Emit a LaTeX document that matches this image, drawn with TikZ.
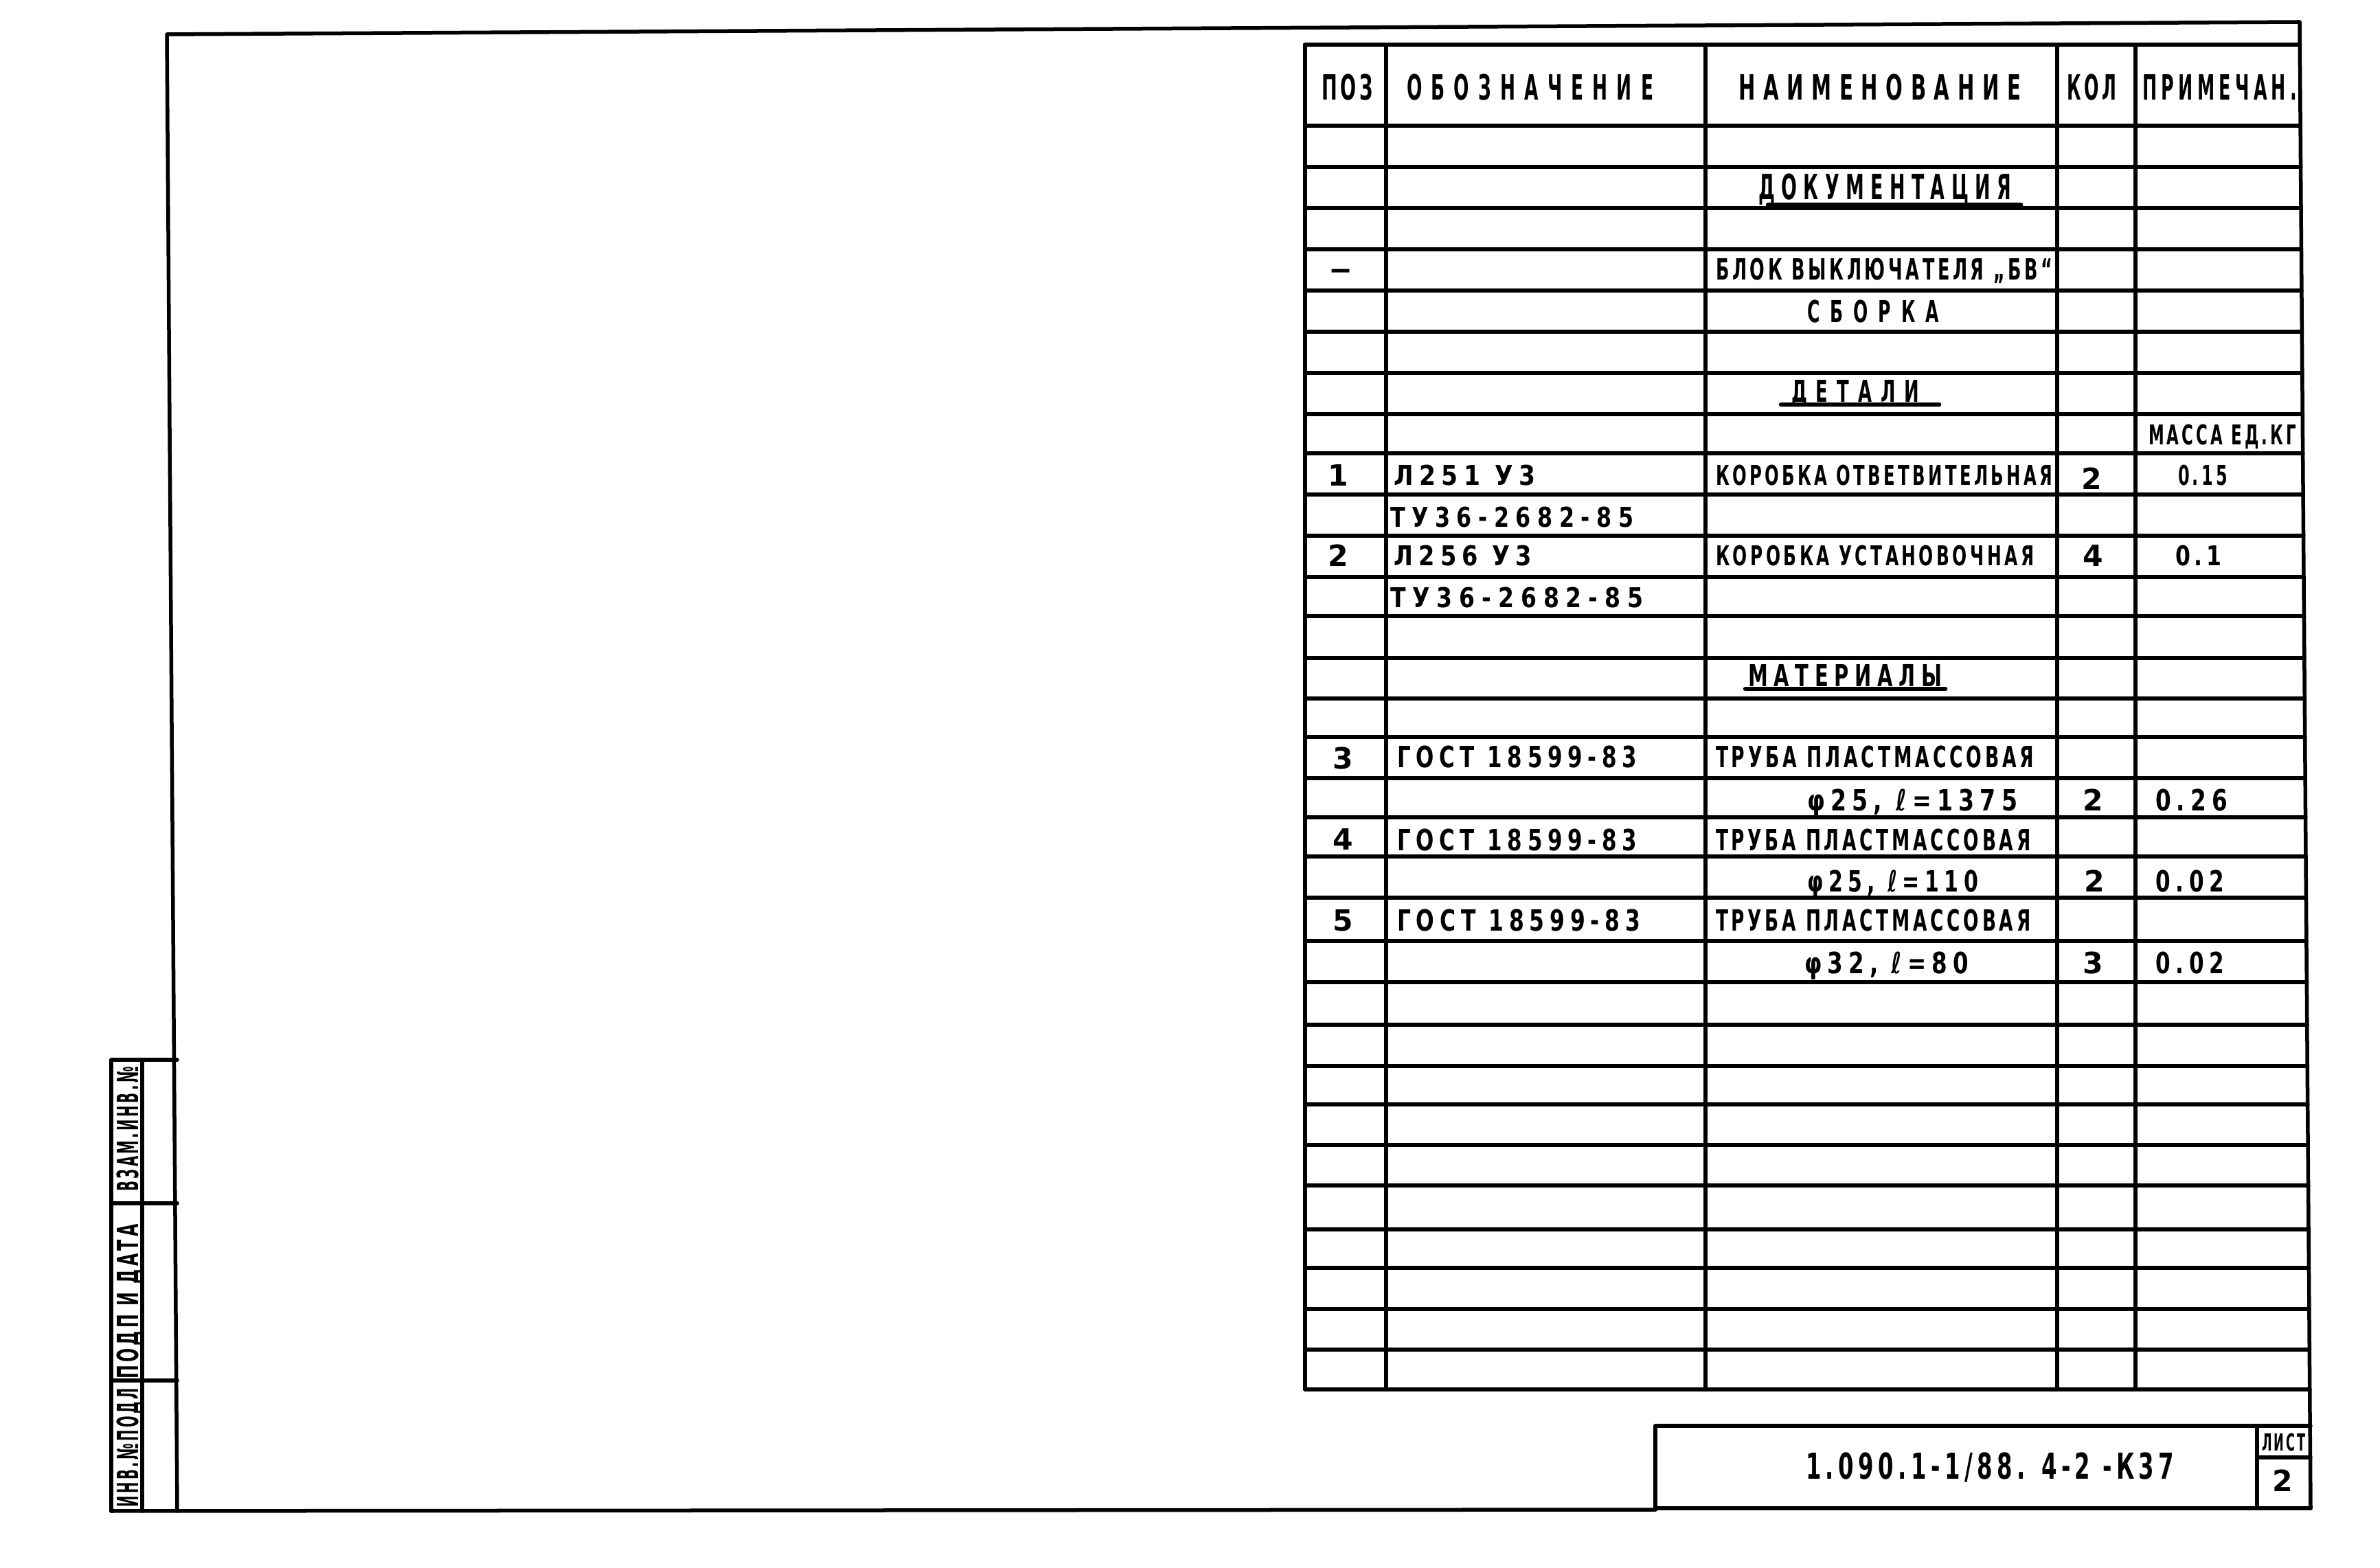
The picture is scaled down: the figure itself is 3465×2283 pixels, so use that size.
\documentclass[tikz,border=0pt]{standalone}
\usepackage{fontspec}
\usepackage{graphicx}
\newfontfamily\gostfont{DejaVu Sans}[LetterSpace=18]
\newcommand\fitw[2]{\resizebox{#1cm}{\height}{#2}}
\newcommand\spc[1]{\addfontfeatures{LetterSpace=#1}}
\tikzset{
  frm/.style={line width=0.055cm, line cap=round, line join=round},
  hrow/.style={line width=0.06cm, line cap=round},
  vcol/.style={line width=0.055cm, line cap=round},
  uline/.style={line width=0.065cm, line cap=round},
  base/.style={inner sep=0pt, outer sep=0pt, text depth=0pt},
  c25/.style={base, text height=0.25cm, font={\gostfont\bfseries\fontsize{9.75pt}{10pt}\selectfont}},
  c28/.style={base, text height=0.29cm, font={\gostfont\bfseries\fontsize{11.3pt}{12pt}\selectfont}},
  c30/.style={base, text height=0.31cm, font={\gostfont\bfseries\fontsize{12.1pt}{13pt}\selectfont}},
  c32/.style={base, text height=0.32cm, font={\gostfont\bfseries\fontsize{12.5pt}{13pt}\selectfont}},
  c37/.style={base, text height=0.37cm, font={\gostfont\bfseries\fontsize{14.4pt}{15pt}\selectfont}},
  c38/.style={base, text height=0.38cm, font={\gostfont\bfseries\fontsize{14.8pt}{15pt}\selectfont}},
}
\begin{document}
\begin{tikzpicture}[x=0.01cm,y=-0.01cm]
\useasboundingbox (0,0) rectangle (3465,2283);

% outer frame
\draw[frm] (258,2200) -- (243,50) -- (3348,32) -- (3364,2196);
\draw[frm] (162,2200) -- (2410,2198);
% title block
\draw[frm] (2410,2198) -- (2410,2076) -- (3364,2076);
\draw[frm] (2410,2196) -- (3364,2196);
\draw[frm] (3286,2076) -- (3286,2196);
\draw[frm] (3286,2122) -- (3364,2122);
% left stamp
\draw[frm] (258,1543) -- (162,1543) -- (162,2200);
\draw[frm] (207,1543) -- (207,2200);
\draw[frm] (162,1752) -- (258,1752);
\draw[frm] (162,2010) -- (258,2010);

% table rows
\foreach \y in {65,183,243,303,363,423,483,543,603,660,720,780,840,897,958,1017,1073,1133,1190,1247,1307,1370,1430,1492,1552,1608,1667,1726,1790,1846,1906,1965,2023} {
  \pgfmathsetmacro\xr{3348+(\y-32)/2164*16}
  \draw[hrow] (1900,\y) -- (\xr,\y);
}
% table columns
\foreach \x in {1900,2018,2483,2995,3109} \draw[vcol] (\x,65) -- (\x,2023);

% header
\node[c37, anchor=west] (hpoz)  at (1924,127) {\fitw{0.75}{ПОЗ}};
\node[c37, anchor=west] (hobo)  at (2048,127) {\fitw{3.59}{\spc{50}ОБОЗНАЧЕНИЕ}};
\node[c37, anchor=west] (hnaim) at (2531,127) {\fitw{4.11}{\spc{40}НАИМЕНОВАНИЕ}};
\node[c37, anchor=west] (hkol)  at (3009,127) {\fitw{0.72}{КОЛ}};
\node[c37, anchor=west] (hprim) at (3119,127) {\fitw{2.25}{\spc{25}ПРИМЕЧАН.}};

% documentation
\node[c37, anchor=west] (doc) at (2560,272) {\fitw{3.68}{\spc{35}ДОКУМЕНТАЦИЯ}};
\draw[uline] ([shift={(14,8)}]doc.south west) -- ([shift={(14,8)}]doc.south east);
\node[c28, anchor=center] (dash) at (1952,391) {\fitw{0.29}{—}};
\node[c30, anchor=west] (blok) at (2498,392) {\fitw{4.90}{БЛОК ВЫКЛЮЧАТЕЛЯ „БВ“}};
\node[c32, anchor=west] (sborka) at (2631,454) {\fitw{1.92}{\spc{60}СБОРКА}};

% details
\node[c32, anchor=west] (det) at (2608,570) {\fitw{1.86}{\spc{50}ДЕТАЛИ}};
\draw[uline] ([shift={(-15,3)}]det.south west) -- ([shift={(29,3)}]det.south east);
\node[c28, anchor=west] (massa) at (3128,633) {\fitw{2.15}{МАССА ЕД.КГ}};

\node[c30, anchor=center] (p1) at (1948,692) {1};
\node[c28, anchor=west] (oboz1) at (2029,692) {\fitw{2.06}{\spc{25}Л251 У3}};
\node[c28, anchor=west] (naim1) at (2498,692) {\fitw{4.90}{КОРОБКА ОТВЕТВИТЕЛЬНАЯ}};
\node[c30, anchor=center] (k1) at (3045,697) {2};
\node[c28, anchor=west] (m1) at (3171,692) {\fitw{0.72}{0.15}};
\node[c28, anchor=west] (tu1) at (2024,753) {\fitw{3.54}{\spc{30}ТУ36-2682-85}};

\node[c30, anchor=center] (p2) at (1948,809) {2};
\node[c28, anchor=west] (oboz2) at (2029,809) {\fitw{2.01}{\spc{25}Л256 У3}};
\node[c28, anchor=west] (naim2) at (2498,809) {\fitw{4.63}{КОРОБКА УСТАНОВОЧНАЯ}};
\node[c30, anchor=center] (k2) at (3047,809) {4};
\node[c28, anchor=west] (m2) at (3167,809) {\fitw{0.67}{0.1}};
\node[c28, anchor=west] (tu2) at (2024,870) {\fitw{3.68}{\spc{30}ТУ36-2682-85}};

% materials
\node[c32, anchor=west] (mat) at (2545,984) {\fitw{2.82}{\spc{30}МАТЕРИАЛЫ}};
\draw[uline] ([shift={(-4,3)}]mat.south west) -- ([shift={(5,3)}]mat.south east);

\node[c30, anchor=center] (p3) at (1955,1104) {3};
\node[c30, anchor=west] (gost3) at (2034,1102) {\fitw{3.49}{\spc{25}ГОСТ 18599-83}};
\node[c30, anchor=west] (tr3) at (2498,1102) {\fitw{4.63}{ТРУБА ПЛАСТМАССОВАЯ}};
\node[c30, anchor=west] (d3) at (2631,1165) {\fitw{3.06}{\spc{25}φ25, ℓ=1375}};
\node[c30, anchor=center] (k3) at (3047,1165) {2};
\node[c30, anchor=west] (m3) at (3138,1165) {\fitw{1.05}{\spc{25}0.26}};

\node[c30, anchor=center] (p4) at (1955,1222) {4};
\node[c30, anchor=west] (gost4) at (2034,1223) {\fitw{3.49}{\spc{25}ГОСТ 18599-83}};
\node[c30, anchor=west] (tr4) at (2498,1223) {\fitw{4.58}{ТРУБА ПЛАСТМАССОВАЯ}};
\node[c30, anchor=west] (d4) at (2631,1283) {\fitw{2.49}{\spc{25}φ25, ℓ=110}};
\node[c30, anchor=center] (k4) at (3049,1283) {2};
\node[c30, anchor=west] (m4) at (3138,1283) {\fitw{1.00}{\spc{25}0.02}};

\node[c30, anchor=center] (p5) at (1955,1340) {5};
\node[c30, anchor=west] (gost5) at (2034,1340) {\fitw{3.54}{\spc{25}ГОСТ 18599-83}};
\node[c30, anchor=west] (tr5) at (2498,1340) {\fitw{4.58}{ТРУБА ПЛАСТМАССОВАЯ}};
\node[c30, anchor=west] (d5) at (2627,1402) {\fitw{2.39}{\spc{25}φ32, ℓ=80}};
\node[c30, anchor=center] (k5) at (3047,1402) {3};
\node[c30, anchor=west] (m5) at (3138,1402) {\fitw{1.00}{\spc{25}0.02}};

% title block texts
\node[c38, anchor=west] (title) at (2629,2134) {\fitw{5.36}{\spc{20}1.090.1-1/88. 4-2 -К37}};
\node[c25, anchor=center] (list) at (3325,2100) {\fitw{0.64}{ЛИСТ}};
\node[c30, anchor=center] (listno) at (3323,2156) {2};

% stamp texts
\node[c30, anchor=center, rotate=90] (s1) at (186,2108) {\fitw{1.73}{ИНВ.№ПОДЛ}};
\node[c30, anchor=center, rotate=90] (s2) at (186,1895) {\fitw{2.25}{ПОДП И ДАТА}};
\node[c30, anchor=center, rotate=90] (s3) at (186,1644) {\fitw{1.81}{ВЗАМ.ИНВ.№}};
\end{tikzpicture}
\end{document}
